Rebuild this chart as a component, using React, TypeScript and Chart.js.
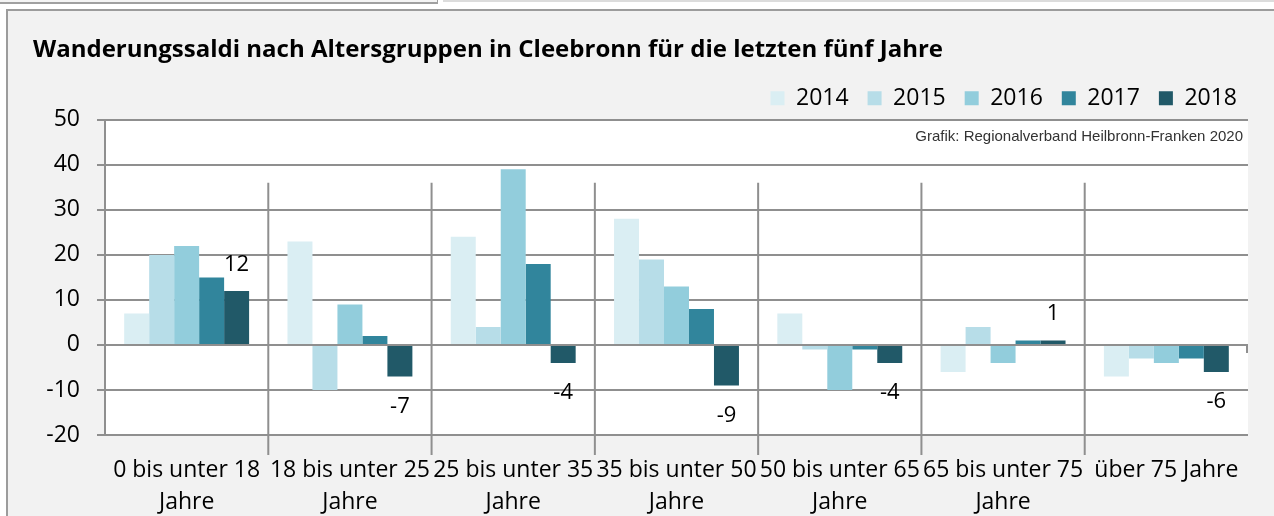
import { useEffect, useRef } from "react";
import { Chart, registerables } from "chart.js";

Chart.register(...registerables);

const chartTitle = "Wanderungssaldi nach Altersgruppen in Cleebronn für die letzten fünf Jahre";
const sourceNote = "Grafik: Regionalverband Heilbronn-Franken 2020";
const categories: (string | string[])[] = [
  ["0 bis unter 18", "Jahre"],
  ["18 bis unter 25", "Jahre"],
  ["25 bis unter 35", "Jahre"],
  ["35 bis unter 50", "Jahre"],
  ["50 bis unter 65", "Jahre"],
  ["65 bis unter 75", "Jahre"],
  "über 75 Jahre",
];
const years = ["2014", "2015", "2016", "2017", "2018"];
const values2014 = [7, 23, 24, 28, 7, -6, -7];
const values2015 = [20, -10, 4, 19, -1, 4, -3];
const values2016 = [22, 9, 39, 13, -10, -4, -4];
const values2017 = [15, 2, 18, 8, -1, 1, -3];
const values2018 = [12, -7, -4, -9, -4, 1, -6];
const yMin = -20;
const yMax = 50;
const yStep = 10;
const colors = ["#DAEEF3", "#B7DDE8", "#92CDDC", "#31859C", "#215968"];
const labelledSeries = 4;

const FONT = "'Open Sans', Lato, sans-serif";
const GRID = "#8f8f8f";

const plotBackground = {
  id: "plotBackground",
  beforeDraw(chart: any) {
    const { ctx, chartArea } = chart;
    ctx.save();
    ctx.fillStyle = "#ffffff";
    ctx.fillRect(chartArea.left, chartArea.top, chartArea.right - chartArea.left, chartArea.bottom - chartArea.top);
    ctx.restore();
  },
};

const separators = {
  id: "separators",
  afterDatasetsDraw(chart: any) {
    const { ctx, chartArea, scales } = chart;
    const x = scales.x;
    const y = scales.y;
    const zero = y.getPixelForValue(0);
    ctx.save();
    ctx.strokeStyle = GRID;
    ctx.lineWidth = 2;
    for (let i = 0; i < categories.length - 1; i++) {
      const px = (x.getPixelForValue(i) + x.getPixelForValue(i + 1)) / 2;
      ctx.beginPath();
      ctx.moveTo(px, chartArea.top + 63);
      ctx.lineTo(px, chartArea.bottom + 20);
      ctx.stroke();
    }
    ctx.beginPath();
    ctx.moveTo(chartArea.right - 1, zero);
    ctx.lineTo(chartArea.right - 1, zero + 8);
    ctx.stroke();
    ctx.restore();
  },
};

const valueLabels = {
  id: "valueLabels",
  afterDatasetsDraw(chart: any) {
    const { ctx } = chart;
    const meta = chart.getDatasetMeta(labelledSeries);
    const data = chart.data.datasets[labelledSeries].data as number[];
    ctx.save();
    ctx.font = `22px ${FONT}`;
    ctx.fillStyle = "#000";
    ctx.textAlign = "center";
    ctx.textBaseline = "middle";
    meta.data.forEach((el: any, i: number) => {
      const v = data[i];
      const yy = v >= 0 ? el.y - 26.5 : el.y + 30;
      ctx.fillText(String(v), el.x, yy);
    });
    ctx.restore();
  },
};

const note = {
  id: "note",
  afterDraw(chart: any) {
    const { ctx, chartArea } = chart;
    ctx.save();
    ctx.font = `15px 'Liberation Sans', Arial, sans-serif`;
    ctx.fillStyle = "#333";
    ctx.textAlign = "right";
    ctx.textBaseline = "middle";
    ctx.fillText(sourceNote, chartArea.right - 5, chartArea.top + 17);
    ctx.restore();
  },
};

export default function App() {
  const ref = useRef<HTMLCanvasElement>(null);

  useEffect(() => {
    const series = [values2014, values2015, values2016, values2017, values2018];
    const chart = new Chart(ref.current as HTMLCanvasElement, {
      type: "bar",
      data: {
        labels: categories as any,
        datasets: years.map((yr, i) => ({
          label: yr,
          data: series[i],
          backgroundColor: colors[i],
          borderWidth: 0,
          barPercentage: 1,
          categoryPercentage: 0.765,
        })),
      },
      options: {
        responsive: false,
        animation: false,
        devicePixelRatio: 1,
        events: [],
        layout: { padding: { left: 33, right: 18, top: 0, bottom: 0 } },
        plugins: {
          title: {
            display: true,
            text: chartTitle,
            align: "start",
            color: "#000",
            font: { family: FONT, size: 24, weight: "bold" },
            padding: { top: 36, bottom: 3 },
          },
          legend: {
            display: true,
            position: "top",
            align: "end",
            labels: {
              boxWidth: 14,
              boxHeight: 14,
              padding: 19,
              color: "#000",
              font: { family: FONT, size: 23 },
            },
          },
          tooltip: { enabled: false },
        },
        scales: {
          x: {
            type: "category",
            grid: { display: false, drawTicks: false },
            border: { display: false },
            ticks: {
              color: "#000",
              font: { family: FONT, size: 23, lineHeight: 1.4 },
              padding: 19,
              maxRotation: 0,
              minRotation: 0,
              autoSkip: false,
            },
            afterFit(s: any) {
              s.height = 81;
            },
          },
          y: {
            min: yMin,
            max: yMax,
            grid: { color: GRID, lineWidth: 2, drawTicks: true, tickLength: 8, tickColor: GRID },
            border: { display: true, color: GRID, width: 2 },
            ticks: {
              stepSize: yStep,
              color: "#000",
              font: { family: FONT, size: 23 },
              padding: 17,
            },
            afterFit(s: any) {
              s.width = 72;
            },
          },
          yR: {
            type: "linear",
            position: "right",
            display: true,
            grid: { display: false, drawTicks: false },
            border: { display: false },
            ticks: { display: false },
            afterFit(s: any) {
              s.width = 8;
            },
          },
        },
      } as any,
      plugins: [plotBackground, separators, valueLabels, note],
    });
    return () => chart.destroy();
  }, []);

  return (
    <div style={{ position: "fixed", left: 0, top: 0, width: 1274, height: 516, background: "#fff", overflow: "hidden" }}>
      <div
        style={{
          position: "absolute",
          left: -2,
          top: -12,
          width: 438,
          height: 13,
          background: "#f4f4f4",
          border: "1px solid #a0a0a0",
          borderBottomWidth: 2,
        }}
      />
      <div style={{ position: "absolute", left: 443, top: 0, width: 900, height: 2, background: "#dcdcdc" }} />
      <div
        style={{
          position: "absolute",
          left: 6,
          top: 9,
          width: 1400,
          height: 700,
          background: "#f2f2f2",
          borderLeft: "2px solid #9c9c9c",
          borderTop: "2px solid #9c9c9c",
        }}
      />
      <canvas
        ref={ref}
        width={1274}
        height={516}
        style={{ position: "absolute", left: 0, top: 0, width: 1274, height: 516 }}
      />
    </div>
  );
}
